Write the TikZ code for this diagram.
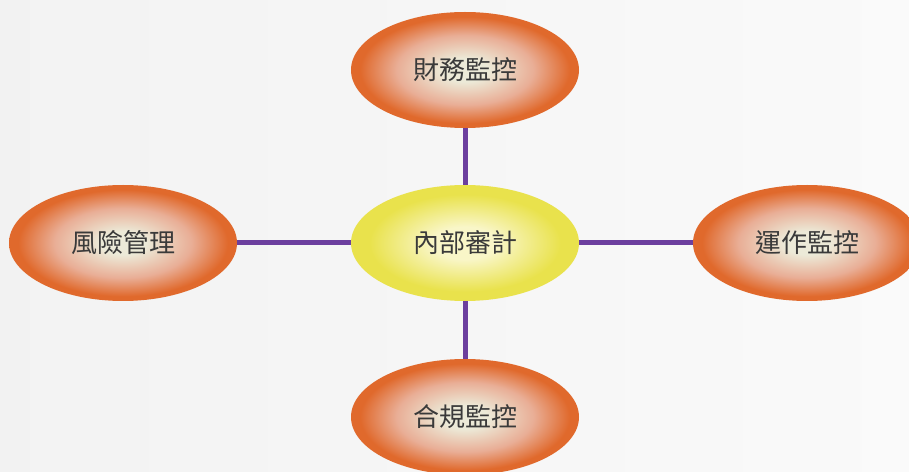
\documentclass[tikz,border=0pt]{standalone}
\usepackage{fontspec}
\newfontfamily\cjk{Noto Sans CJK TC}
\usetikzlibrary{shapes.geometric}
\definecolor{orin}{HTML}{ECEAD8}
\definecolor{ormid}{HTML}{E9AE96}
\definecolor{orout}{HTML}{E0692C}
\definecolor{yein}{HTML}{F9F6C8}
\definecolor{yeout}{HTML}{E9E24C}
\definecolor{link}{HTML}{6C3F9E}
\definecolor{txt}{HTML}{3A3A3A}
\pgfdeclareradialshading{orshade}{\pgfpoint{0bp}{0bp}}{color(0bp)=(orin); color(5bp)=(orin); color(15bp)=(ormid); color(23bp)=(orout); color(25bp)=(orout); color(50bp)=(orout)}
\pgfdeclareradialshading{yeshade}{\pgfpoint{0bp}{0bp}}{color(0bp)=(yein); color(7bp)=(yein); color(21bp)=(yeout); color(25bp)=(yeout); color(50bp)=(yeout)}
\begin{document}
\begin{tikzpicture}[x=1pt,y=1pt,
  bub/.style={ellipse, minimum width=228pt, minimum height=116pt, inner sep=0pt, font=\cjk\fontsize{26}{30}\selectfont, text=txt},
  orbub/.style={bub, shading=orshade},
  yebub/.style={bub, shading=yeshade},
  link/.style={draw=link, line width=5pt}]
\shade[left color=black!5, right color=black!2] (0,0) rectangle (909,471);
\useasboundingbox (0,0) rectangle (909,471);
\node[yebub] (c) at (465,228) {內部審計};
\node[orbub] (t) at (465,401) {財務監控};
\node[orbub] (b) at (465,54) {合規監控};
\node[orbub] (l) at (123,228) {風險管理};
\node[orbub] (r) at (807,228) {運作監控};
\draw[link] (t) -- (c);
\draw[link] (c) -- (b);
\draw[link] (l) -- (c);
\draw[link] (c) -- (r);
\end{tikzpicture}
\end{document}
